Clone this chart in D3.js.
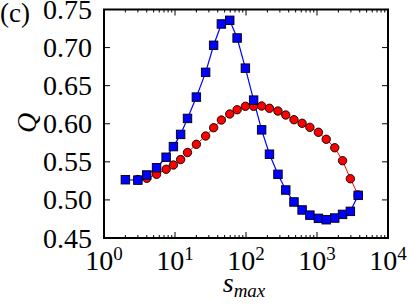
<!DOCTYPE html>
<html>
<head>
<meta charset="utf-8">
<script src="https://cdn.jsdelivr.net/npm/d3@7"></script>
<style>
html,body{margin:0;padding:0;background:#fff;}
svg{display:block;}
</style>
</head>
<body>
<script>
const blueS = [2, 3, 4, 5.5, 7.5, 9.5, 12, 15, 20, 27, 35, 45, 59, 75, 98, 128, 166, 214, 282, 363, 474, 617, 794, 1047, 1349, 1778, 2291, 2951, 3802];
const blueQ = [0.5265, 0.526, 0.5327, 0.5423, 0.556, 0.570, 0.586, 0.607, 0.635, 0.6675, 0.703, 0.731, 0.7358, 0.7126, 0.673, 0.631, 0.592, 0.560, 0.5336, 0.513, 0.4973, 0.4868, 0.480, 0.4758, 0.474, 0.4762, 0.481, 0.485, 0.506];
const redS = [3, 4, 5.5, 7.5, 9.5, 12, 15, 20, 27, 35, 45, 59, 75, 98, 128, 166, 214, 282, 363, 474, 617, 794, 1047, 1349, 1778, 2291, 2951, 3802];
const redQ = [0.5268, 0.5284, 0.5336, 0.5402, 0.5458, 0.553, 0.5622, 0.573, 0.5839, 0.5948, 0.6049, 0.6128, 0.6184, 0.6229, 0.6229, 0.6233, 0.6203, 0.6167, 0.6115, 0.6053, 0.6006, 0.5953, 0.5888, 0.5796, 0.5685, 0.5515, 0.5278, 0.5064];
const yTicks = [0.45, 0.50, 0.55, 0.60, 0.65, 0.70, 0.75];
const xTickExps = [0, 1, 2, 3, 4];

const W = 408, H = 306;
const L = 104, R = 388, T = 9.5, B = 238;
const FONT = "'Liberation Serif', 'Times New Roman', 'DejaVu Serif', serif";

const svg = d3.select("body").append("svg").attr("width", W).attr("height", H)
  .attr("font-family", FONT);
const x = d3.scaleLog().domain([1, 1e4]).range([L, R]);
const y = d3.scaleLinear().domain([0.45, 0.75]).range([B, T]);

const minor = [];
for (let e = 0; e < 4; e++) for (let m = 2; m <= 9; m++) minor.push(m * Math.pow(10, e));

const g = svg.append("g");
function xTicks(yy, dir) {
  g.selectAll(null).data(xTickExps.map(e => Math.pow(10, e))).enter().append("line")
    .attr("x1", d => x(d)).attr("x2", d => x(d)).attr("y1", yy).attr("y2", yy + dir * 6)
    .attr("stroke", "#000").attr("stroke-width", 1);
  g.selectAll(null).data(minor).enter().append("line")
    .attr("x1", d => x(d)).attr("x2", d => x(d)).attr("y1", yy).attr("y2", yy + dir * 3)
    .attr("stroke", "#000").attr("stroke-width", 1);
}
xTicks(B, -1);
xTicks(T, 1);
function yT(xx, dir) {
  g.selectAll(null).data(yTicks).enter().append("line")
    .attr("x1", xx).attr("x2", xx + dir * 6).attr("y1", d => y(d)).attr("y2", d => y(d))
    .attr("stroke", "#000").attr("stroke-width", 1);
}
yT(L, 1); yT(R, -1);

const lineGen = d3.line().x(d => x(d[0])).y(d => y(d[1]));
const red = redS.map((s, i) => [s, redQ[i]]);
const blue = blueS.map((s, i) => [s, blueQ[i]]);
svg.append("path").attr("d", lineGen(red)).attr("fill", "none").attr("stroke", "#ff0000").attr("stroke-width", 1);
svg.append("path").attr("d", lineGen(blue)).attr("fill", "none").attr("stroke", "#0000ff").attr("stroke-width", 1.2);

svg.selectAll("circle.r").data(red).enter().append("circle")
  .attr("cx", d => x(d[0])).attr("cy", d => y(d[1])).attr("r", 4.2)
  .attr("fill", "#ff0000").attr("stroke", "#000").attr("stroke-width", 0.9);
const sq = 8.5;
svg.selectAll("rect.b").data(blue).enter().append("rect")
  .attr("x", d => x(d[0]) - sq / 2).attr("y", d => y(d[1]) - sq / 2)
  .attr("width", sq).attr("height", sq)
  .attr("fill", "#0000ff").attr("stroke", "#000").attr("stroke-width", 0.9);

svg.append("rect").attr("x", L).attr("y", T).attr("width", R - L).attr("height", B - T)
  .attr("fill", "none").attr("stroke", "#000").attr("stroke-width", 2);

svg.selectAll("text.yl").data(yTicks).enter().append("text")
  .attr("font-family", FONT)
  .attr("x", 92).attr("y", d => y(d) + 9.5)
  .attr("text-anchor", "end").attr("font-size", 28)
  .text(d => d.toFixed(2));

xTickExps.forEach(e => {
  const t = svg.append("text").attr("font-family", FONT).attr("x", x(Math.pow(10, e))).attr("y", 270)
    .attr("text-anchor", "middle").attr("font-size", 28);
  t.append("tspan").text("10");
  t.append("tspan").attr("font-size", 19).attr("dy", -10).text(e);
});

const xl = svg.append("text").attr("font-family", FONT).attr("x", 244).attr("y", 292).attr("text-anchor", "middle")
  .attr("font-size", 28).attr("font-style", "italic");
xl.append("tspan").text("s");
xl.append("tspan").attr("font-size", 19).attr("dy", 5).text("max");

svg.append("text").attr("font-family", FONT).attr("transform", "translate(36,123) rotate(-90)")
  .attr("text-anchor", "middle").attr("font-size", 28).attr("font-style", "italic").text("Q");

svg.append("text").attr("font-family", FONT).attr("x", 0).attr("y", 22).attr("font-size", 27).text("(c)");
</script>
</body>
</html>
